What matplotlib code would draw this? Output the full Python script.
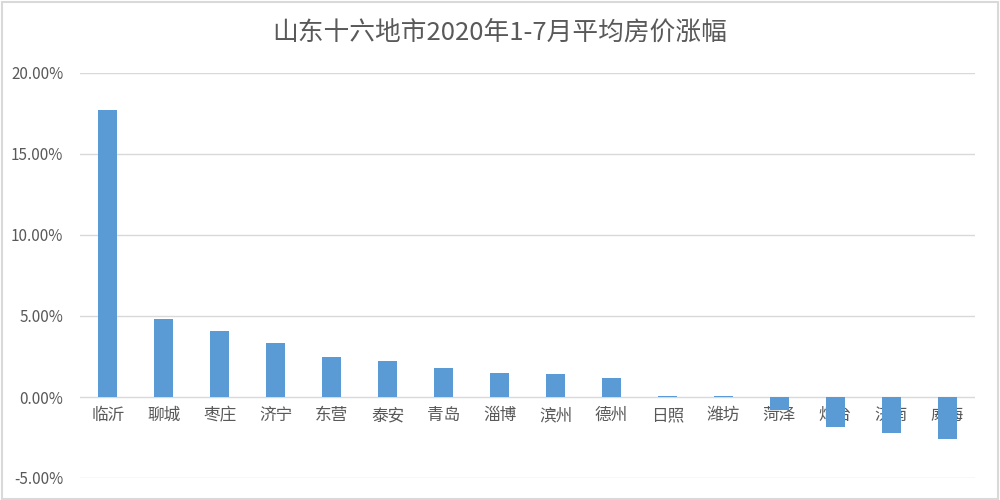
import matplotlib.pyplot as plt
from matplotlib.ticker import FuncFormatter
from matplotlib.patches import Rectangle

plt.rcParams['font.family'] = ['Noto Sans CJK SC', 'DejaVu Sans']

cities = ['临沂', '聊城', '枣庄', '济宁', '东营', '泰安', '青岛', '淄博',
          '滨州', '德州', '日照', '潍坊', '菏泽', '烟台', '济南', '威海']
growth = [17.7, 4.8, 4.07, 3.33, 2.47, 2.22, 1.79, 1.48,
          1.42, 1.17, 0.08, 0.07, -0.8, -1.85, -2.2, -2.6]

fig = plt.figure(figsize=(10, 5), dpi=100)
ax = fig.add_axes([0.08, 0.044, 0.895, 0.81])

x = range(len(cities))
ax.bar(x, growth, width=0.34, color='#5B9BD5', zorder=3)

ax.set_ylim(-5, 20)
ax.set_xlim(-0.5, len(cities) - 0.5)
ax.set_yticks([-5, 0, 5, 10, 15, 20])
ax.yaxis.set_major_formatter(FuncFormatter(lambda v, p: f'{v:.2f}%'))
ax.grid(axis='y', color='#D9D9D9', linewidth=1, zorder=0)
ax.tick_params(axis='y', length=0, labelsize=11, labelcolor='#595959', pad=12)
ax.set_xticks([])
for s in ax.spines.values():
    s.set_visible(False)

for i, c in enumerate(cities):
    ax.text(i, -1.15, c, ha='center', va='center', fontsize=12,
            color='#595959', zorder=2)

fig.text(0.5, 0.934, '山东十六地市2020年1-7月平均房价涨幅', ha='center', va='center',
         fontsize=18.5, color='#595959')

fig.patches.append(Rectangle((0.002, 0.003), 0.996, 0.994, transform=fig.transFigure,
                             fill=False, edgecolor='#D9D9D9', linewidth=1.5))

fig.savefig('out.png')
